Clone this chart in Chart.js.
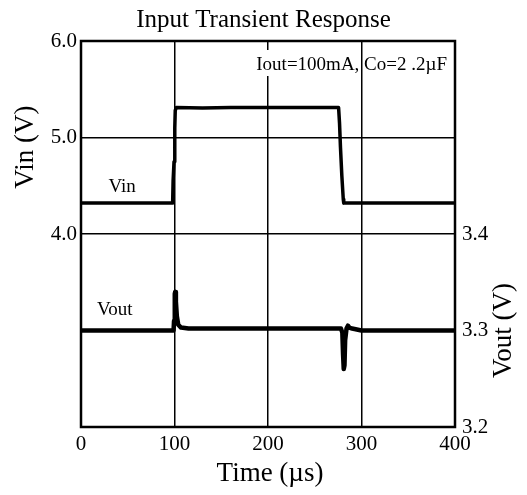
<!DOCTYPE html>
<html>
<head>
<meta charset="utf-8">
<script src="https://cdn.jsdelivr.net/npm/chart.js@4.4.0/dist/chart.umd.min.js"></script>
<style>
  html, body { margin: 0; padding: 0; background: #fff; }
  #wrap { width: 527px; height: 495px; }
</style>
</head>
<body>
<div id="wrap"><canvas id="chart" width="527" height="495"></canvas></div>
<script>
const vinTime  = [0, 98, 98.5, 99.5, 100.3, 100.8, 102, 130, 160, 200, 240, 275.5, 276.5, 277.5, 279, 280.5, 281, 400];
const vinVolts = [4.32, 4.32, 4.55, 4.75, 5.1, 5.28, 5.31, 5.305, 5.31, 5.31, 5.31, 5.31, 5.15, 4.9, 4.6, 4.36, 4.32, 4.32];

const voutTime  = [0, 99, 99.5, 100.3, 100.8, 101.5, 102.5, 104, 107, 115, 150, 200, 250, 278, 279.5, 280.3, 281, 281.8, 282.5, 284, 285.5, 287, 290, 300, 400];
const voutVolts = [3.300, 3.300, 3.31, 3.338, 3.340, 3.33, 3.315, 3.306, 3.303, 3.302, 3.302, 3.302, 3.302, 3.302, 3.298, 3.275, 3.260, 3.264, 3.29, 3.302, 3.305, 3.303, 3.302, 3.300, 3.300];

const timeTicks = [0, 100, 200, 300, 400];
const vinTickLabels = [4, 5, 6];
const voutTickLabels = [3.2, 3.3, 3.4];

const chartTitle = 'Input Transient Response';
const noteText = 'Iout=100mA, Co=2 .2\u00B5F';
const serif = '"Liberation Serif", "Times New Roman", serif';

const toPoints = (xs, ys) => xs.map((x, i) => ({ x: x, y: ys[i] }));

// frame, axis titles, notes
const extras = {
  id: 'extras',
  beforeDatasetsDraw(chart) {
    const c = chart.ctx, a = chart.chartArea;
    c.save();
    c.font = '19px ' + serif;
    c.textAlign = 'right';
    c.textBaseline = 'alphabetic';
    const w = c.measureText(noteText).width;
    c.fillStyle = '#fff';
    c.fillRect(a.right - 8 - w, 50, 80, 26);
    c.fillStyle = '#000';
    c.fillText(noteText, a.right - 8, 70);
    c.restore();
  },
  afterDraw(chart) {
    const c = chart.ctx, a = chart.chartArea;
    const x = chart.scales.x, y = chart.scales.y, y2 = chart.scales.y2;
    c.save();
    c.strokeStyle = '#000';
    c.lineWidth = 2.5;
    c.strokeRect(a.left, a.top, a.right - a.left, a.bottom - a.top);

    c.fillStyle = '#000';
    c.font = '19px ' + serif;
    c.textAlign = 'center';
    c.fillText('Vin', x.getPixelForValue(44), y.getPixelForValue(4.32) - 11);
    c.fillText('Vout', x.getPixelForValue(36), y2.getPixelForValue(3.3) - 16);

    c.font = '27px ' + serif;
    c.textBaseline = 'middle';
    c.fillText('Time (\u00B5s)', (a.left + a.right) / 2 + 2, 474);

    c.save();
    c.translate(26, y.getPixelForValue(4.9));
    c.rotate(-Math.PI / 2);
    c.fillText('Vin (V)', 0, 0);
    c.restore();

    c.save();
    c.translate(504, y2.getPixelForValue(3.3));
    c.rotate(-Math.PI / 2);
    c.fillText('Vout (V)', 0, 0);
    c.restore();
    c.restore();
  }
};

const tickFont = { family: serif, size: 21 };

new Chart(document.getElementById('chart').getContext('2d'), {
  type: 'line',
  data: {
    datasets: [
      {
        label: 'Vin',
        data: toPoints(vinTime, vinVolts),
        yAxisID: 'y',
        borderColor: '#000',
        borderWidth: 3.5,
        borderJoinStyle: 'round',
        pointRadius: 0,
        tension: 0
      },
      {
        label: 'Vout',
        data: toPoints(voutTime, voutVolts),
        yAxisID: 'y2',
        borderColor: '#000',
        borderWidth: 4.5,
        borderJoinStyle: 'round',
        pointRadius: 0,
        tension: 0
      }
    ]
  },
  options: {
    responsive: false,
    animation: false,
    layout: { padding: 0 },
    plugins: {
      legend: { display: false },
      tooltip: { enabled: false },
      title: {
        display: true,
        text: chartTitle,
        color: '#000',
        font: { family: serif, size: 25, weight: 'normal' },
        padding: { top: 5, bottom: 6 }
      }
    },
    scales: {
      x: {
        type: 'linear',
        min: 0, max: 400,
        afterBuildTicks: s => { s.ticks = timeTicks.map(v => ({ value: v })); },
        afterFit: s => { s.height = 68; },
        ticks: { color: '#000', font: tickFont, padding: 5, maxRotation: 0 },
        border: { display: false },
        grid: {
          drawTicks: false,
          lineWidth: 1.5,
          color: ctx => (ctx.tick && ctx.tick.value > 0 && ctx.tick.value < 400) ? '#000' : 'rgba(0,0,0,0)'
        }
      },
      y: {
        position: 'left',
        min: 2, max: 6,
        ticks: {
          stepSize: 1,
          color: '#000', font: tickFont, padding: 4,
          callback: v => vinTickLabels.includes(v) ? v.toFixed(1) : ''
        },
        afterFit: s => { s.width = 81; },
        border: { display: false },
        grid: {
          drawTicks: false,
          lineWidth: 1.5,
          color: ctx => (ctx.tick && (ctx.tick.value === 4 || ctx.tick.value === 5)) ? '#000' : 'rgba(0,0,0,0)'
        }
      },
      y2: {
        position: 'right',
        min: 3.2, max: 3.6,
        ticks: {
          stepSize: 0.1,
          color: '#000', font: tickFont, padding: 7,
          callback: v => voutTickLabels.some(t => Math.abs(t - v) < 1e-6) ? v.toFixed(1) : ''
        },
        afterFit: s => { s.width = 72; },
        border: { display: false },
        grid: { display: false, drawTicks: false }
      }
    }
  },
  plugins: [extras]
});
</script>
</body>
</html>
